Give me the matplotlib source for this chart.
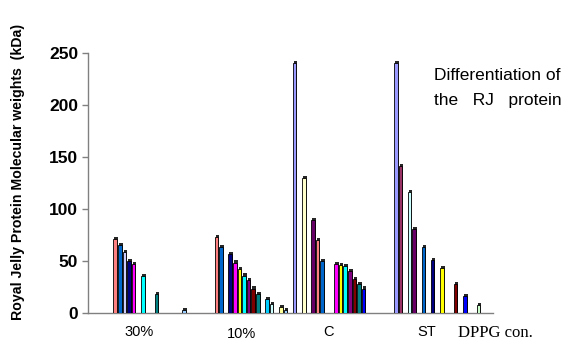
import numpy as np
import matplotlib
matplotlib.use("Agg")
import matplotlib.pyplot as plt
from matplotlib.transforms import blended_transform_factory

nan = np.nan

categories = ["30%", "10%", "C", "ST"]

# Excel default series palette (21 series)
series_colors = ["#9999FF", "#993366", "#FFFFCC", "#CCFFFF", "#660066", "#FF8080",
                 "#0066CC", "#CCCCFF", "#000080", "#FF00FF", "#FFFF00", "#00FFFF",
                 "#800080", "#800000", "#008080", "#0000FF", "#00CCFF", "#CCFFFF",
                 "#CCFFCC", "#FFFF99", "#99CCFF"]

# molecular weights (kDa) per group, one entry per series, nan = no band
vals_30 = [nan, nan, nan, nan, nan, 71, 65, 59, 50, 47.5, nan, 35.5, nan, nan, 18.5,
           nan, nan, nan, nan, nan, 2.5]
vals_10 = [nan, nan, nan, nan, nan, 73, 63, nan, 57, 48.5, 42, 36, 31.5, 23.5, 18.5,
           nan, 13, 9, nan, 5.5, 2.5]
vals_c = [240, nan, 130, nan, 89, 70, 50, nan, nan, 47.5, 46.5, 45, 40, 33, 27.5,
          23.5, nan, nan, nan, nan, nan]
vals_st = [240, 141, nan, 116, 81, nan, 63, nan, 51, nan, 43.5, nan, nan, 27.5, nan,
           16, nan, nan, 7.5, nan, nan]

groups = [vals_30, vals_10, vals_c, vals_st]

plt.rcParams['font.family'] = ['Liberation Sans', 'DejaVu Sans']

fig = plt.figure(figsize=(5.68, 3.4), dpi=100)
ax = fig.add_axes([88 / 568, 1 - 313 / 340, 405 / 568, 260 / 340])

n = len(series_colors)
slot = 1.0 / (n + 1)
front_w = 0.78 * slot
for gi, vals in enumerate(groups):
    for k in range(n):
        v = vals[k]
        if np.isnan(v):
            continue
        left = gi - 0.5 + (k + 0.5) * slot
        # dark shadow side, a bit right and up
        ax.bar(left + 0.22 * slot, v + 2.0, width=front_w, align='edge',
               color='#262626', linewidth=0, zorder=2)
        ax.bar(left, v, width=front_w, align='edge', color=series_colors[k],
               edgecolor='black', linewidth=0.6, zorder=3)

ax.set_xlim(-0.5, 3.5)
ax.set_ylim(0, 250)
ax.set_yticks([0, 50, 100, 150, 200, 250])
ax.set_xticks([])
for s in ['top', 'right']:
    ax.spines[s].set_visible(False)
for s in ['left', 'bottom']:
    ax.spines[s].set_color('#808080')
    ax.spines[s].set_linewidth(1.0)
ax.tick_params(axis='y', direction='out', length=4, color='#808080', width=1,
               labelsize=12.5, pad=3)
for lab in ax.get_yticklabels():
    lab.set_fontweight('bold')

trans = blended_transform_factory(ax.transData, fig.transFigure)
label_x = [0.0, 1.02, 1.88, 2.85]
label_y = [331.7, 334, 332, 332]
for c, x, y in zip(categories, label_x, label_y):
    ax.text(x, 1 - y / 340, c, transform=trans, ha='center', va='center',
            fontsize=10.5, clip_on=False)

fig.text(458 / 568, 1 - 333 / 340, "DPPG con.", ha='left', va='center',
         fontsize=12, family=['Liberation Serif', 'DejaVu Serif'])

fig.text(434 / 568, 1 - 75 / 340, "Differentiation of", ha='left', va='center',
         fontsize=12.5)
fig.text(434 / 568, 1 - 100 / 340, "the   RJ   protein", ha='left', va='center',
         fontsize=12.5)

fig.text(18 / 568, 1 - 172 / 340, "Royal Jelly Protein Molecular weights  (kDa)",
         rotation=90, ha='center', va='center', fontsize=10.2, fontweight='bold')

fig.savefig("out.png", dpi=100)
